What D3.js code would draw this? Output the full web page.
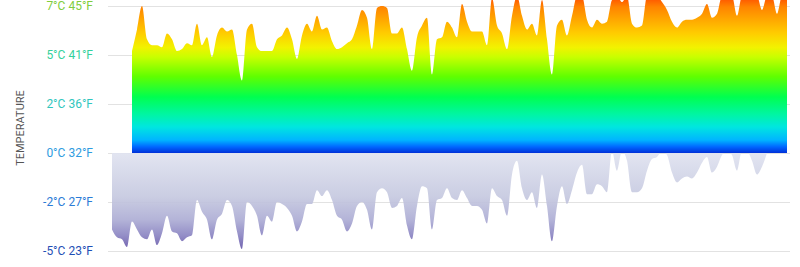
<!DOCTYPE html>
<html>
<head>
<meta charset="utf-8">
<script src="https://cdn.jsdelivr.net/npm/d3@7"></script>
<style>
  body { margin: 0; background: #fff; }
  svg { display: block; font-family: Roboto, "Noto Sans", sans-serif; }
  .tickLabel { font-size: 12px; }
  .labelH { font-size: 11px; fill: #555; }
</style>
</head>
<body>
<svg id="chart1" width="800" height="267"></svg>
<script>
// daily highs (°C)
let tempHigh = [
  5.2,6.3,7.5,5.8,5.5,5.5,5.4,6.1,5.8,5.2,
  5.3,5.6,5.5,6.6,5.5,5.9,4.9,6.0,6.4,6.2,
  6.3,5.0,3.7,6.3,6.6,5.4,5.2,5.2,5.2,5.8,
  6.0,6.4,5.8,4.8,6.0,6.6,6.2,7.0,6.3,6.4,
  5.7,5.3,5.4,5.6,5.8,6.5,7.3,6.9,5.3,7.4,
  7.5,7.4,6.1,6.1,6.4,5.3,4.2,5.9,6.5,6.9,
  4.0,5.8,5.9,6.7,6.4,5.9,7.6,6.7,6.2,6.2,
  6.2,5.5,7.9,6.5,6.1,5.3,7.0,8.0,7.0,6.3,
  6.6,6.0,7.8,5.8,4.0,6.5,6.8,6.0,7.0,8.0,
  8.0,6.8,6.4,6.8,6.6,6.7,7.8,8.0,7.7,8.0,
  6.6,6.4,6.5,8.0,8.0,8.0,7.7,7.3,6.7,6.4,
  6.7,6.8,6.8,6.9,7.1,7.6,6.9,7.1,8.0,8.0,
  8.0,7.0,8.0,8.0,8.0,8.0,7.3,8.0,8.0,7.1,
  8.0,8.0
];
// daily lows (°C)
let tempLow = [
  -3.9,-4.3,-4.4,-4.8,-3.5,-3.9,-4.3,-4.4,-3.9,-4.7,
  -4.1,-3.2,-4.0,-4.1,-4.5,-4.3,-4.2,-2.4,-3.0,-3.4,
  -4.4,-3.4,-3.1,-2.4,-2.7,-4.0,-4.9,-2.5,-2.7,-3.2,
  -4.2,-3.2,-3.5,-2.5,-2.6,-2.8,-3.2,-4.0,-3.5,-2.6,
  -2.6,-1.9,-2.2,-1.9,-2.4,-3.2,-3.4,-4.0,-3.6,-2.7,
  -2.5,-2.9,-3.9,-2.0,-1.8,-2.0,-2.8,-2.7,-2.3,-3.7,
  -4.4,-2.7,-1.7,-1.8,-3.9,-2.4,-2.3,-1.8,-2.3,-2.4,
  -1.9,-2.3,-2.7,-2.7,-2.9,-3.6,-1.8,-2.2,-2.4,-3.2,
  -1.1,-0.4,-1.8,-2.4,-2.0,-2.8,-1.1,-2.7,-4.5,-2.7,
  -1.7,-2.6,-1.9,-1.0,-0.6,-2.1,-2.1,-1.6,-1.7,-2.0,
  0.1,-0.9,0.1,-0.4,-2.0,-2.0,-1.8,-0.9,-0.3,-0.2,
  0.1,-0.1,-1.0,-1.5,-1.3,-1.2,-1.3,-1.0,-0.5,-0.2,
  -1.0,-0.7,-0.1,0.1,-0.1,-0.9,0.1,0.1,-0.4,-1.1,
  -0.7,0.0
];
let tickValues = [-5, -2.5, 0, 2.5, 5, 7.5];
let tickColors = ["#1f4fb5", "#2b7bd6", "#2e9be0", "#30c6bd", "#33d19b", "#80cd3c"];

let margin = [];
margin.width = 800;
margin.height = 267;
margin.gridLeft = 108;
margin.gridRight = 790;

let svg = d3.select("#chart1");

let yLinear = d3.scaleLinear()
  .domain([-5, 7.5])
  .range([251, 6]);
// highs and lows are drawn on shifted x ranges, like the original
let xHigh = d3.scaleLinear()
  .domain([0, tempHigh.length - 1])
  .range([132, 787]);
let xLow = d3.scaleLinear()
  .domain([0, tempLow.length - 1])
  .range([112, 767]);

// gradients
let defs = svg.append("defs");
let hot = defs.append("linearGradient")
  .attr("id", "gradHigh")
  .attr("gradientUnits", "userSpaceOnUse")
  .attr("x1", 0).attr("x2", 0)
  .attr("y1", yLinear(0)).attr("y2", 0);
[[0, "#0030d8"], [0.04, "#0066ff"], [0.085, "#00b5ff"], [0.17, "#00e6e0"],
 [0.25, "#00f5a5"], [0.366, "#00ff50"], [0.5, "#60ff00"], [0.627, "#c8ff00"],
 [0.69, "#f2f200"], [0.784, "#ffcc00"], [0.87, "#ffa800"], [0.955, "#ff8400"],
 [1, "#ff5e00"]].forEach((s) => {
  hot.append("stop").attr("offset", s[0]).attr("stop-color", s[1]);
});
let cold = defs.append("linearGradient")
  .attr("id", "gradLow")
  .attr("gradientUnits", "userSpaceOnUse")
  .attr("x1", 0).attr("x2", 0)
  .attr("y1", yLinear(0)).attr("y2", yLinear(-5));
[[0, "#e0e3f0"], [0.45, "#c6c9e0"], [0.68, "#aeaed5"], [0.84, "#8c86c3"], [1, "#6352a6"]].forEach((s) => {
  cold.append("stop").attr("offset", s[0]).attr("stop-color", s[1]);
});

// grid
svg.append("g")
  .selectAll("line")
  .data(tickValues)
  .enter()
  .append("line")
    .attr("x1", margin.gridLeft)
    .attr("x2", margin.gridRight)
    .attr("y1", (d) => Math.round(yLinear(d)) + 0.5)
    .attr("y2", (d) => Math.round(yLinear(d)) + 0.5)
    .attr("stroke", "#e2e2e2")
    .attr("stroke-width", 1);

// lows, hanging from zero
let areaLow = d3.area()
  .x((d, i) => xLow(i))
  .y0(yLinear(0))
  .y1((d) => yLinear(d))
  .curve(d3.curveMonotoneX);
svg.append("path")
  .datum(tempLow)
  .attr("d", areaLow)
  .attr("fill", "url(#gradLow)")
  .attr("fill-opacity", 0.93);

// highs, rising from zero
let areaHigh = d3.area()
  .x((d, i) => xHigh(i))
  .y0(yLinear(0))
  .y1((d) => yLinear(d))
  .curve(d3.curveMonotoneX);
svg.append("path")
  .datum(tempHigh)
  .attr("d", areaHigh)
  .attr("fill", "url(#gradHigh)");

// y axis labels
svg.append("g")
  .selectAll("text")
  .data(tickValues)
  .enter()
  .append("text")
    .attr("class", "tickLabel")
    .attr("x", 93)
    .attr("y", (d) => yLinear(d))
    .attr("dy", "0.35em")
    .attr("text-anchor", "end")
    .attr("fill", (d, i) => tickColors[i])
    .text((d) => Math.trunc(d) + "°C " + Math.trunc(d * 9 / 5 + 32) + "°F");

svg.append("text")
  .attr("class", "labelH")
  .attr("transform", "rotate(-90)")
  .attr("x", -128)
  .attr("y", 24)
  .style("text-anchor", "middle")
  .text("TEMPERATURE");
</script>
</body>
</html>
